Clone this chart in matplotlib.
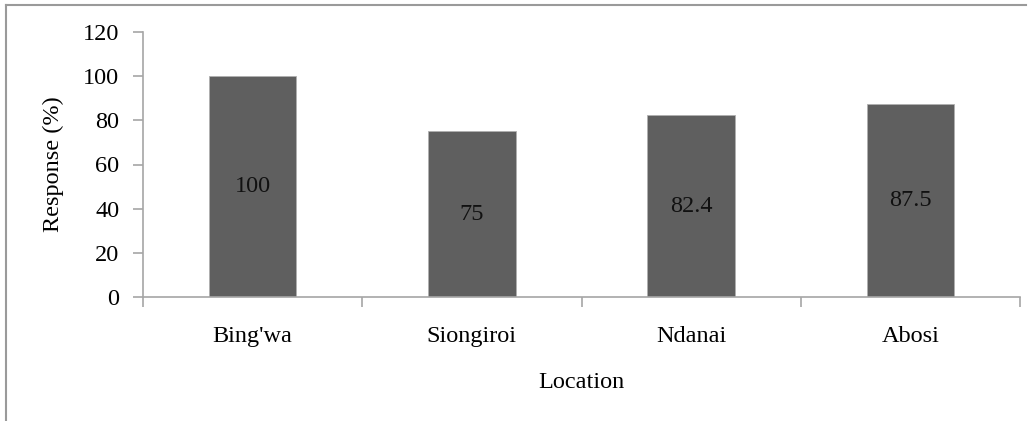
import matplotlib
matplotlib.use("Agg")
import matplotlib.pyplot as plt
from matplotlib.lines import Line2D

locations = ["Bing'wa", "Siongiroi", "Ndanai", "Abosi"]
response = [100, 75, 82.4, 87.5]
value_labels = ["100", "75", "82.4", "87.5"]
y_ticks = [0, 20, 40, 60, 80, 100, 120]

plt.rcParams["font.family"] = ["Liberation Serif", "DejaVu Serif"]
plt.rcParams["font.size"] = 17.5

AXIS_GREY = "#a6a6a6"
BAR_GREY = "#5f5f5f"

fig = plt.figure(figsize=(10.35, 4.21), dpi=100)
ax = fig.add_axes([143 / 1035, 1 - 297 / 421, (1020 - 143) / 1035, (297 - 32) / 421])

x = list(range(len(locations)))
bars = ax.bar(x, response, width=0.4, color=BAR_GREY, edgecolor="#b0b0b0",
              linewidth=0.6, zorder=2)
for rect, text in zip(bars, value_labels):
    ax.text(rect.get_x() + rect.get_width() / 2, rect.get_height() / 2, text,
            ha="center", va="center", fontsize=17.5, color="#111111", zorder=3)

ax.set_xlim(-0.5, len(locations) - 0.5)
ax.set_ylim(0, 120)
ax.set_yticks(y_ticks)
ax.set_xticks(x)
ax.set_xticklabels(locations)
ax.set_xticks([i - 0.5 for i in range(len(locations) + 1)], minor=True)
ax.tick_params(axis="x", which="major", length=0, pad=21)
ax.tick_params(axis="x", which="minor", length=7, color=AXIS_GREY, width=1.2)
ax.tick_params(axis="y", length=7, color=AXIS_GREY, width=1.2, pad=10)

for side in ("top", "right"):
    ax.spines[side].set_visible(False)
for side in ("left", "bottom"):
    ax.spines[side].set_color(AXIS_GREY)
    ax.spines[side].set_linewidth(1.2)

ax.set_ylabel("Response (%)", fontsize=17.5, labelpad=14)
ax.set_xlabel("Location", fontsize=17.5, labelpad=18)

# chart-area border (top and left visible in the source image)
fig.add_artist(Line2D([6 / 1035, 6 / 1035], [0, 1 - 5 / 421],
                      transform=fig.transFigure, color="#9a9a9a", linewidth=1.5))
fig.add_artist(Line2D([6 / 1035, 1026 / 1035], [1 - 5 / 421, 1 - 5 / 421],
                      transform=fig.transFigure, color="#9a9a9a", linewidth=1.5))

fig.savefig("out.png", dpi=100)
